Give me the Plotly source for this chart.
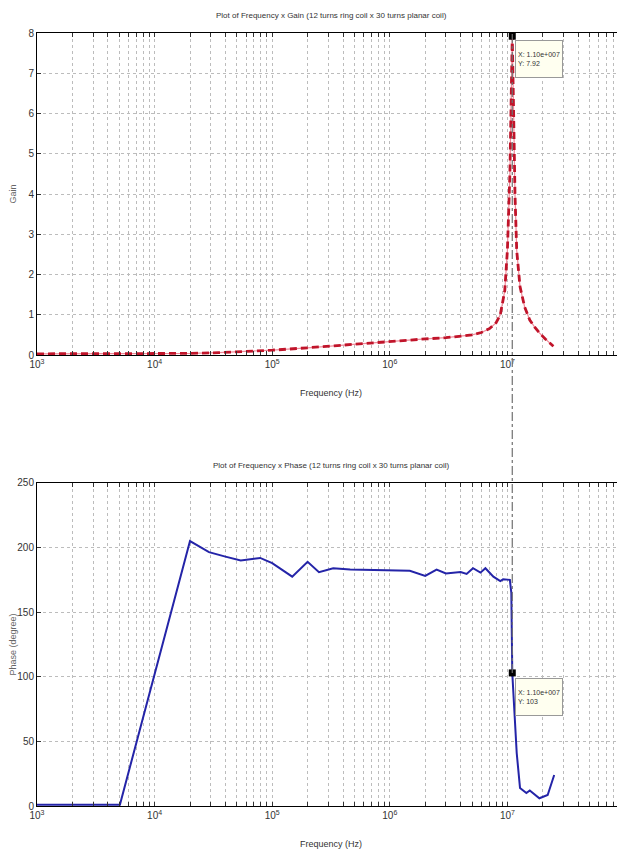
import plotly.graph_objects as go
import numpy as np

# ---- data ----
gain_freq = [1e3, 2e3, 5e3, 1e4, 2e4, 3.5e4, 5e4, 1e5, 2e5, 3e5, 5e5, 7e5, 1e6, 1.5e6, 2e6, 3e6,
             4e6, 5e6, 6e6, 7e6, 8e6, 8.7e6, 9.5e6, 1e7, 1.05e7, 1.08e7, 1.1e7, 1.13e7, 1.16e7,
             1.2e7, 1.28e7, 1.4e7, 1.55e7, 1.7e7, 1.87e7, 2.1e7, 2.46e7]
gain_vals = [0.03, 0.03, 0.03, 0.03, 0.04, 0.06, 0.08, 0.12, 0.18, 0.22, 0.28, 0.31, 0.35, 0.38,
             0.40, 0.43, 0.46, 0.50, 0.56, 0.65, 0.80, 1.0, 1.6, 2.6, 4.5, 6.5, 7.92, 6.0, 4.0,
             2.6, 1.7, 1.2, 0.87, 0.70, 0.55, 0.40, 0.22]

phase_freq = [1e3, 2e3, 5.07e3, 2e4, 2.9e4, 4e4, 5.4e4, 7.9e4, 1e5, 1.48e5, 2e5, 2.5e5, 3.3e5,
              4.6e5, 6.8e5, 1.48e6, 2e6, 2.5e6, 3e6, 4e6, 4.5e6, 5.1e6, 5.9e6, 6.5e6, 7.6e6,
              8.7e6, 9.2e6, 1.05e7, 1.08e7, 1.1e7, 1.2e7, 1.28e7, 1.45e7, 1.55e7, 1.87e7,
              2.2e7, 2.5e7]
phase_vals = [1, 1, 1, 205, 196.5, 193, 190, 192, 188, 177.5, 189, 181, 184, 183, 182.6, 182,
              178, 183, 180, 181, 179.6, 184, 180.6, 184, 177.5, 174, 175.4, 175, 165, 103, 41,
              14, 10, 12, 6, 8.5, 24]

tip_freq = 1.10e7
tip_gain = 7.92
tip_phase = 103

title_gain = "Plot of Frequency x Gain (12 turns ring coil x 30 turns planar coil)"
title_phase = "Plot of Frequency x Phase (12 turns ring coil x 30 turns planar coil)"

FONT = "Liberation Sans Narrow, Arial Narrow, Liberation Sans, Arial, sans-serif"

top_dom = [0.5834, 1.0]
bot_dom = [0.0, 0.4179]
x_range = [3, 8]

fig = go.Figure()

# gain: pink halo + red dashed
fig.add_trace(go.Scatter(x=gain_freq, y=gain_vals, mode="lines",
                         line=dict(color="#f08898", width=1.2), xaxis="x", yaxis="y",
                         showlegend=False, hoverinfo="skip"))
fig.add_trace(go.Scatter(x=gain_freq, y=gain_vals, mode="lines",
                         line=dict(color="#c0142a", width=2.8, dash="7px,4px"),
                         xaxis="x", yaxis="y", showlegend=False))
# phase
fig.add_trace(go.Scatter(x=phase_freq, y=phase_vals, mode="lines",
                         line=dict(color="#2424a8", width=2), xaxis="x2", yaxis="y2",
                         showlegend=False))

# datatip markers
fig.add_trace(go.Scatter(x=[tip_freq], y=[tip_gain], mode="markers",
                         marker=dict(symbol="square", color="black", size=7),
                         xaxis="x", yaxis="y", showlegend=False, cliponaxis=False))
fig.add_trace(go.Scatter(x=[tip_freq], y=[tip_phase], mode="markers",
                         marker=dict(symbol="square", color="black", size=7),
                         xaxis="x2", yaxis="y2", showlegend=False, cliponaxis=False))

tickvals = [m * 10 ** d for d in range(3, 8) for m in range(1, 10)] + [1e8]
ticktext = [("10<sup>%d</sup>" % d if m == 1 else "") for d in range(3, 8) for m in range(1, 10)] + ["10<sup>8</sup>"]

common_x = dict(type="log", range=x_range, tickvals=tickvals, ticktext=ticktext,
                showgrid=True, gridcolor="#bcbcbc", griddash="dot", gridwidth=1,
                ticks="inside", ticklen=4, tickcolor="#333", showline=True, linecolor="black",
                linewidth=1, mirror="ticks", zeroline=False, automargin=False,
                tickfont=dict(family=FONT, size=10, color="#333"),
                title=dict(text="Frequency (Hz)", font=dict(family=FONT, size=9, color="#333"),
                           standoff=20))
common_y = dict(showgrid=True, gridcolor="#bcbcbc", griddash="dot", gridwidth=1,
                ticks="inside", ticklen=4, tickcolor="#333", showline=True, linecolor="black",
                linewidth=1, mirror="ticks", zeroline=False, automargin=False,
                tickfont=dict(family=FONT, size=10, color="#333"))

fig.update_layout(
    width=617, height=843,
    margin=dict(l=29, r=0, t=25, b=45),
    paper_bgcolor="white", plot_bgcolor="white",
    xaxis=dict(common_x, domain=[0, 1], anchor="y"),
    yaxis=dict(common_y, domain=top_dom, range=[0, 8], dtick=1, anchor="x",
               title=dict(text="Gain", font=dict(family=FONT, size=9, color="#666"), standoff=19)),
    xaxis2=dict(common_x, domain=[0, 1], anchor="y2"),
    yaxis2=dict(common_y, domain=bot_dom, range=[0, 250], dtick=50, anchor="x2",
                title=dict(text="Phase (degree)", font=dict(family=FONT, size=9, color="#666"),
                           standoff=9)),
)

# vertical dash-dot line linking the two datatips (paper coords derived from axis ranges)
x_paper = (np.log10(tip_freq) - x_range[0]) / (x_range[1] - x_range[0])
y_bottom_paper = bot_dom[0] + (bot_dom[1] - bot_dom[0]) * tip_phase / 250.0
fig.add_shape(type="line", xref="paper", yref="paper",
              x0=x_paper, x1=x_paper, y0=y_bottom_paper, y1=1.0,
              line=dict(color="#707070", width=1.2, dash="dashdot"), layer="above")

# titles
fig.add_annotation(text=title_gain, xref="paper", yref="paper", x=0.50, y=1.0, yshift=11,
                   showarrow=False, yanchor="bottom",
                   font=dict(family=FONT, size=8, color="#333"))
fig.add_annotation(text=title_phase, xref="paper", yref="paper", x=0.50, y=bot_dom[1], yshift=11,
                   showarrow=False, yanchor="bottom",
                   font=dict(family=FONT, size=8, color="#333"))

# datatips
fig.add_annotation(text="X: 1.10e+007<br>Y: 7.92", xref="x", yref="y",
                   x=np.log10(tip_freq), y=tip_gain, xanchor="left", yanchor="top",
                   xshift=3, yshift=-4, showarrow=False, align="left",
                   width=42, height=32, valign="middle",
                   bgcolor="#fffff0", bordercolor="#999", borderwidth=1, borderpad=2,
                   font=dict(family=FONT, size=7, color="#333"))
fig.add_annotation(text="X: 1.10e+007<br>Y: 103", xref="x2", yref="y2",
                   x=np.log10(tip_freq), y=tip_phase, xanchor="left", yanchor="top",
                   xshift=3, yshift=-5, showarrow=False, align="left",
                   width=42, height=32, valign="middle",
                   bgcolor="#fffff0", bordercolor="#999", borderwidth=1, borderpad=2,
                   font=dict(family=FONT, size=7, color="#333"))

fig.write_html("out.html")
